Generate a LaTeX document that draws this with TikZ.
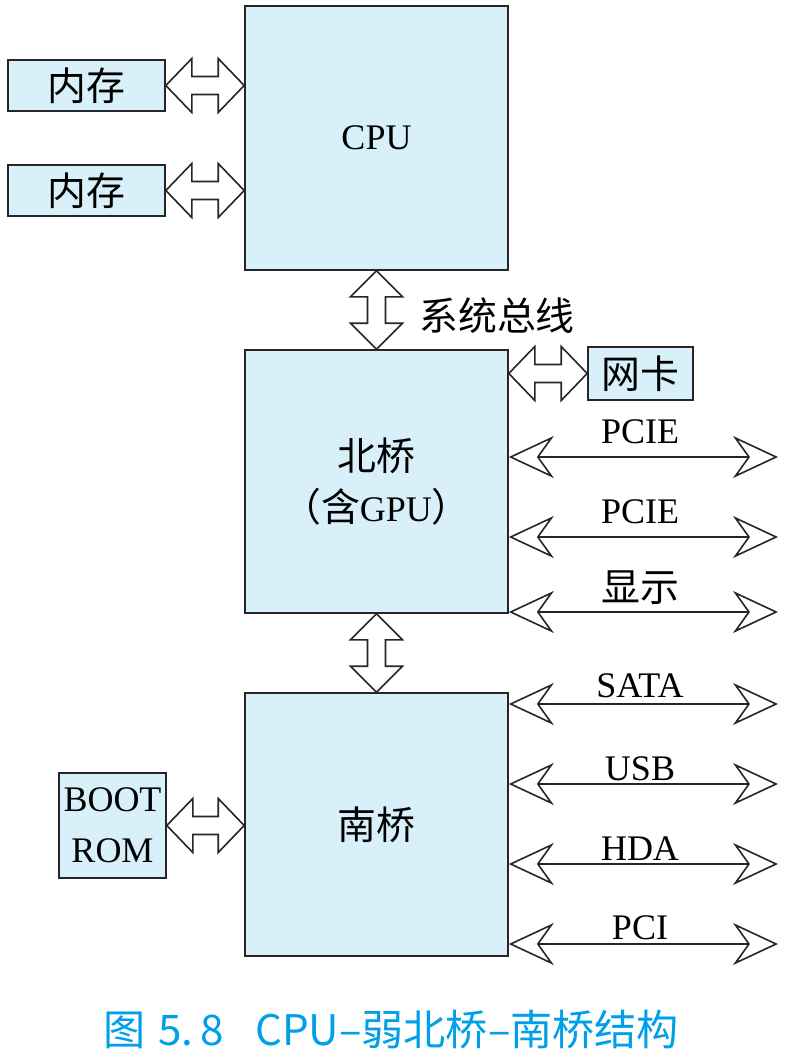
\documentclass[tikz,border=0pt]{standalone}
\usepackage{fontspec}
\setmainfont{Liberation Serif}
\newfontfamily\cjk[Scale=1.08]{Noto Sans CJK SC}
\usetikzlibrary{arrows.meta,calc}
\definecolor{boxfill}{RGB}{215,240,250}
\definecolor{capcol}{RGB}{0,160,233}
\newcommand\hfat[2]{\draw[fatarr] let \p1=(#1), \p2=(#2) in
  (\x1,\y1) -- (\x1+26pt,\y1+27pt) -- (\x1+26pt,\y1+9pt) -- (\x2-26pt,\y1+9pt) -- (\x2-26pt,\y1+27pt)
  -- (\x2,\y1) -- (\x2-26pt,\y1-27pt) -- (\x2-26pt,\y1-9pt) -- (\x1+26pt,\y1-9pt) -- (\x1+26pt,\y1-27pt) -- cycle;}
\newcommand\vfat[2]{\draw[fatarr] let \p1=(#1), \p2=(#2) in
  (\x1,\y1) -- (\x1+26pt,\y1-26pt) -- (\x1+9pt,\y1-26pt) -- (\x1+9pt,\y2+26pt) -- (\x1+26pt,\y2+26pt)
  -- (\x1,\y2) -- (\x1-26pt,\y2+26pt) -- (\x1-9pt,\y2+26pt) -- (\x1-9pt,\y1-26pt) -- (\x1-26pt,\y1-26pt) -- cycle;}
\begin{document}
\begin{tikzpicture}[x=1pt,y=-1pt,
  txt/.style={font=\fontsize{36}{51}\selectfont, inner sep=0pt},
  box/.style={txt, draw=black!85, line width=1.6pt, fill=boxfill, align=center},
  fatarr/.style={draw=black!85, line width=1.6pt, fill=white, line join=miter},
  thinarr/.style={draw=black!85, line width=1.6pt,
    arrows={Stealth[open,length=45pt,width=42pt,inset=15pt]-Stealth[open,length=45pt,width=42pt,inset=15pt]}},
  lbl/.style={txt},
  capt/.style={inner sep=0pt, text=capcol, font=\cjk\fontsize{39}{44}\selectfont}]
\useasboundingbox (0,0) rectangle (797,1062);
% boxes
\node[box, minimum width=263pt, minimum height=264pt] (cpu) at (376.5,138) {CPU};
\node[box, minimum width=157pt, minimum height=51pt] (m1) at (86.5,85.5) {\cjk 内存};
\node[box, minimum width=157pt, minimum height=51pt] (m2) at (86.5,190.5) {\cjk 内存};
\node[box, minimum width=263pt, minimum height=263pt] (nb) at (376.5,481.5) {{\cjk 北桥}\\{\cjk （含}GPU{\cjk ）}};
\node[box, minimum width=105pt, minimum height=53pt] (nic) at (640.5,373.5) {\cjk 网卡};
\node[box, minimum width=263pt, minimum height=263pt] (sb) at (376.5,824.5) {\cjk 南桥};
\node[box, minimum width=107pt, minimum height=105pt] (rom) at (112.5,825.5) {BOOT\\ROM};
% fat arrows
\hfat{m1.east}{cpu.west |- m1.east}
\hfat{m2.east}{cpu.west |- m2.east}
\hfat{nb.east |- nic.west}{nic.west}
\hfat{rom.east}{sb.west |- rom.east}
\vfat{cpu.south}{nb.north}
\vfat{nb.south}{sb.north}
\node[lbl] (bus) at (497,316) {\cjk 系统总线};
% thin arrows
\coordinate (r1) at (778,457);
\coordinate (r2) at (778,537);
\coordinate (r3) at (778,612);
\coordinate (r4) at (778,704);
\coordinate (r5) at (778,784);
\coordinate (r6) at (778,864);
\coordinate (r7) at (778,944);
\draw[thinarr] (nb.east |- r1) -- (r1);
\draw[thinarr] (nb.east |- r2) -- (r2);
\draw[thinarr] (nb.east |- r3) -- (r3);
\draw[thinarr] (sb.east |- r4) -- (r4);
\draw[thinarr] (sb.east |- r5) -- (r5);
\draw[thinarr] (sb.east |- r6) -- (r6);
\draw[thinarr] (sb.east |- r7) -- (r7);
\node[lbl] (l1) at (640,432) {PCIE};
\node[lbl] (l2) at (640,512) {PCIE};
\node[lbl] (l3) at (640,588) {\cjk 显示};
\node[lbl] (l4) at (640,686) {SATA};
\node[lbl] (l5) at (640,769) {USB};
\node[lbl] (l6) at (640,849) {HDA};
\node[lbl] (l7) at (640,928) {PCI};
% caption
\node[capt, anchor=west] (c1) at (103,1030) {图};
\node[capt, anchor=west] (c2) at (158,1030) {5.\,8};
\node[capt, anchor=west] (c3) at (255,1030) {CPU–弱北桥–南桥结构};
\end{tikzpicture}
\end{document}
